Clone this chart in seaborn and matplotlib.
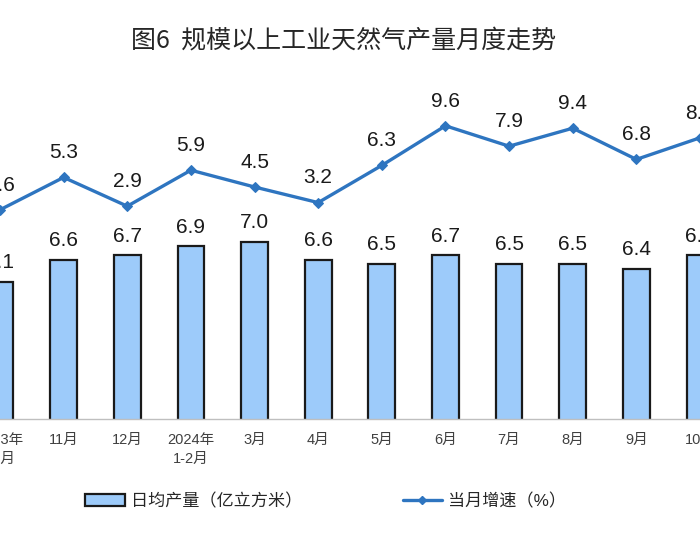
import numpy as np
import pandas as pd
import matplotlib
matplotlib.use("Agg")
import matplotlib.pyplot as plt
from matplotlib.patches import Patch
from matplotlib.lines import Line2D
import seaborn as sns

categories = ["2023年\n10月", "11月", "12月", "2024年\n1-2月", "3月", "4月", "5月",
              "6月", "7月", "8月", "9月", "10月"]
daily_output = [6.1, 6.6, 6.7, 6.9, 7.0, 6.6, 6.5, 6.7, 6.5, 6.5, 6.4, 6.7]
growth_rate = [2.6, 5.3, 2.9, 5.9, 4.5, 3.2, 6.3, 9.6, 7.9, 9.4, 6.8, 8.6]

title = "图6  规模以上工业天然气产量月度走势"
bar_label = "日均产量（亿立方米）"
line_label = "当月增速（%）"

sns.set_style("white")
plt.rcParams["font.family"] = ["Liberation Sans", "Noto Sans CJK SC", "DejaVu Sans"]

BAR_FACE = "#9DCBFA"
LINE_COLOR = "#2E75C0"

df = pd.DataFrame({"cat": categories, "daily": daily_output,
                   "growth": growth_rate, "idx": np.arange(len(categories))})

fig = plt.figure(figsize=(7, 5.5), dpi=100)
ax = fig.add_axes([0.0, (550 - 419) / 550, 1.0, (419 - 80) / 550])

sns.barplot(data=df, x="cat", y="daily", ax=ax, color=BAR_FACE, width=0.42,
            edgecolor="#1a1a1a", linewidth=1.6, saturation=1)
ax.set_ylim(3, 3 + (419 - 80) / 44.25)

ax2 = ax.twinx()
sns.lineplot(data=df, x="idx", y="growth", ax=ax2, color=LINE_COLOR, linewidth=2.4,
             marker="D", markersize=5.5, markeredgecolor=LINE_COLOR, sort=False)
ax2.set_ylim((241 - 419) / 12.0, (241 - 80) / 12.0)

for a in (ax, ax2):
    a.set_xlim(0.1135, 11.0)
    for s in ("top", "left", "right"):
        a.spines[s].set_visible(False)
    a.set_yticks([])
    a.set_ylabel("")
    a.set_xlabel("")
ax2.spines["bottom"].set_visible(False)
ax.spines["bottom"].set_color("#BFBFBF")
ax.spines["bottom"].set_linewidth(1.0)

ax.set_xticks(np.arange(len(categories)))
ax.set_xticklabels(categories, fontsize=10.5, color="#404040", linespacing=1.45)
ax.tick_params(axis="x", which="major", length=0, pad=10)
ax.set_xticks(np.arange(len(categories) - 1) + 0.5, minor=True)
ax.tick_params(axis="x", which="minor", direction="in", length=4, color="#BFBFBF", width=1)

for i, v in enumerate(daily_output):
    ax.annotate(f"{v:.1f}", (i, v), xytext=(0, 7), textcoords="offset points",
                ha="center", va="bottom", fontsize=15, color="#1a1a1a",
                annotation_clip=False)
for i, v in enumerate(growth_rate):
    ax2.annotate(f"{v:.1f}", (i, v), xytext=(0, 11), textcoords="offset points",
                 ha="center", va="bottom", fontsize=15, color="#1a1a1a",
                 annotation_clip=False)

fig.text(0.491, 1 - 41 / 550, title, ha="center", va="center", fontsize=18,
         color="#262626", weight="medium", family=["Noto Sans CJK SC", "DejaVu Sans"])

handles = [Patch(facecolor=BAR_FACE, edgecolor="#1a1a1a", linewidth=1.6),
           Line2D([0], [0], color=LINE_COLOR, linewidth=2.4, marker="D",
                  markersize=4)]
fig.legend(handles, [bar_label, line_label], loc="center left",
           bbox_to_anchor=(70 / 700, 1 - 501 / 550), ncol=2, frameon=False,
           fontsize=12.3, handlelength=2.3, handleheight=0.65, handletextpad=0.35,
           columnspacing=5.9, labelcolor="#262626")

fig.savefig("out.png", dpi=100)
